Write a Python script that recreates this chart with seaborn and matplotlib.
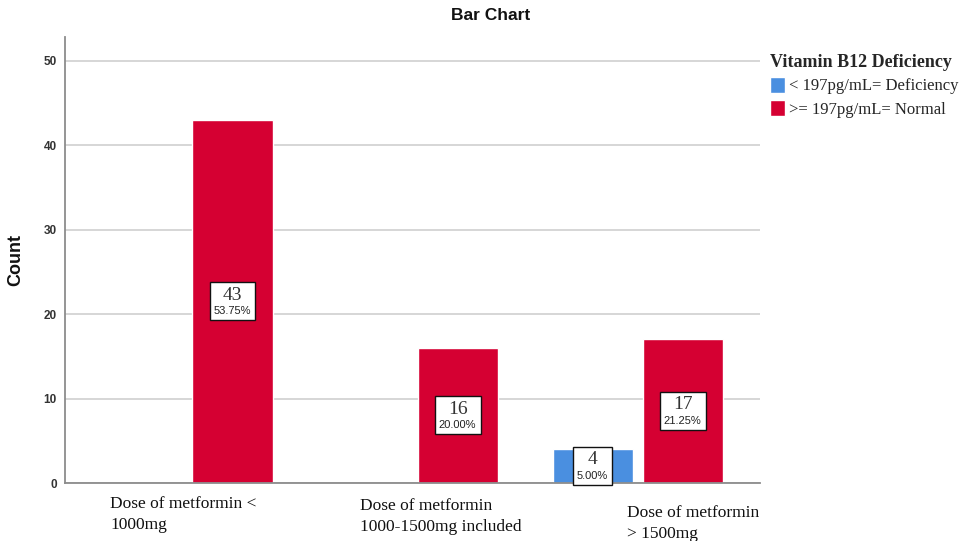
import matplotlib
matplotlib.use("Agg")
import matplotlib.pyplot as plt
import seaborn as sns
import pandas as pd
from matplotlib.offsetbox import TextArea, VPacker, AnnotationBbox

# ---- data ----
doses = ["Dose of metformin <\n1000mg",
         "Dose of metformin\n1000-1500mg included",
         "Dose of metformin\n> 1500mg"]
b12_groups = ["< 197pg/mL= Deficiency", ">= 197pg/mL= Normal"]
deficiency_counts = [0, 0, 4]
normal_counts = [43, 16, 17]
total_n = 80

rows = []
for i, d in enumerate(doses):
    rows.append({"dose": d, "b12": b12_groups[0], "count": deficiency_counts[i]})
    rows.append({"dose": d, "b12": b12_groups[1], "count": normal_counts[i]})
df = pd.DataFrame(rows)

palette = {b12_groups[0]: "#4A8FE0", b12_groups[1]: "#D50032"}

sns.set_style("white")
fig = plt.figure(figsize=(9.71, 5.41), dpi=100)
ax = fig.add_axes([0.0669, 0.1072, 0.716, 0.8244])

sns.barplot(data=df, x="dose", y="count", hue="b12", order=doses,
            hue_order=b12_groups, palette=palette, width=0.8, gap=0.11,
            saturation=1, ax=ax, legend=True)

ax.set_xlim(-0.544, 2.544)
ax.set_ylim(0, 52.8)
ax.set_yticks([0, 10, 20, 30, 40, 50])
ax.yaxis.grid(True, color="#CFCFCF", linewidth=1.2)
ax.set_axisbelow(True)
for s in ["top", "right"]:
    ax.spines[s].set_visible(False)
for s in ["left", "bottom"]:
    ax.spines[s].set_color("#8C8C8C")
    ax.spines[s].set_linewidth(1.3)
ax.tick_params(axis="y", length=0, labelsize=8.5, labelcolor="#333333", pad=6)
for t in ax.get_yticklabels():
    t.set_fontweight("bold")
    t.set_fontfamily("Liberation Sans")
ax.set_ylabel("Count", fontsize=13, fontweight="bold", labelpad=14,
              family="Liberation Sans", color="#111111")
ax.set_xlabel("")

# x tick labels: left-aligned serif text as in the source
ax.set_xticks([0, 1, 2])
ax.set_xticklabels([])
ax.tick_params(axis="x", length=0)
label_dx = [-0.344, -0.233, -0.047]
label_dy = [-0.030, -0.034, -0.050]
for i, d in enumerate(doses):
    ax.text(i + label_dx[i], label_dy[i], d, transform=ax.get_xaxis_transform(),
            ha="left", va="top", fontsize=12.5, family="Liberation Serif",
            color="#111111", linespacing=1.4, clip_on=False)

# value labels in framed boxes
for b in ax.patches:
    h = b.get_height()
    if h is None or h <= 0:
        continue
    cx = b.get_x() + b.get_width() / 2
    ta1 = TextArea(f"{int(round(h))}", textprops=dict(fontsize=14, family="Liberation Serif", color="#333333"))
    ta2 = TextArea(f"{h / total_n * 100:.2f}%", textprops=dict(fontsize=8, family="Liberation Sans", color="#222222"))
    pack = VPacker(children=[ta1, ta2], align="center", pad=0, sep=2)
    ab = AnnotationBbox(pack, (cx, h / 2), xycoords="data", box_alignment=(0.5, 0.5),
                        frameon=True, pad=0.3,
                        bboxprops=dict(facecolor="white", edgecolor="#111111", linewidth=1.0))
    ax.add_artist(ab)

# legend
handles, labels = ax.get_legend_handles_labels()
ax.get_legend().remove()
leg = fig.legend(handles, labels, title="Vitamin B12 Deficiency", loc="upper left",
                 bbox_to_anchor=(0.779, 0.925), frameon=False,
                 prop={"family": "Liberation Serif", "size": 12},
                 handlelength=0.9, handleheight=1.1, handletextpad=0.25,
                 labelspacing=0.35, alignment="left", borderpad=0.3)
leg.get_title().set_fontfamily("Liberation Serif")
leg.get_title().set_fontweight("bold")
leg.get_title().set_fontsize(13)

fig.suptitle("Bar Chart", x=0.505, y=0.985, fontsize=12.5, fontweight="bold",
             family="Liberation Sans", color="#111111")

fig.savefig("out.png", dpi=100)
